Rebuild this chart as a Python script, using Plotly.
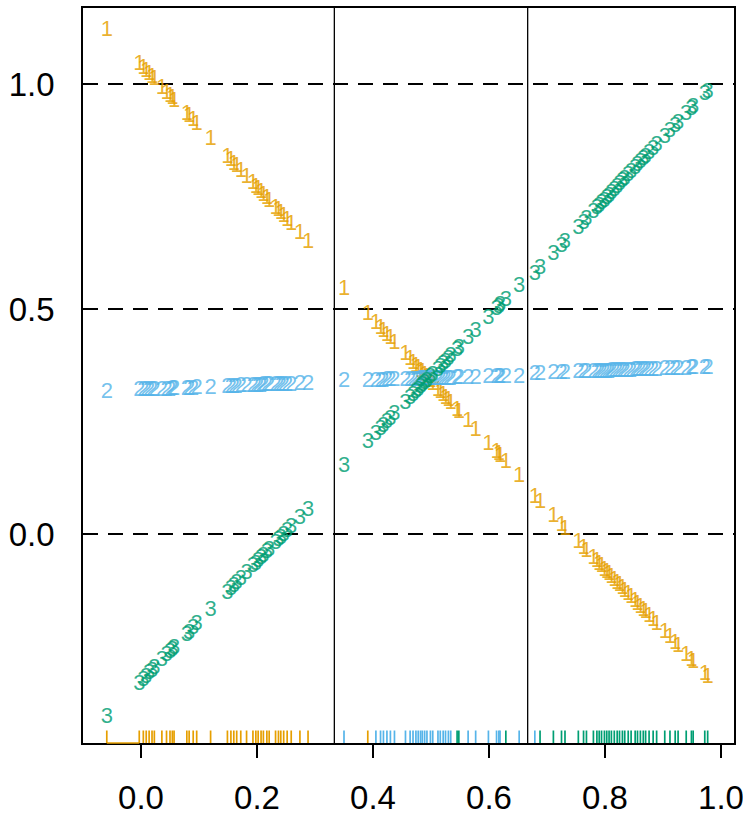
import plotly.graph_objects as go

# ---------------- data ----------------
# panel 1
x_p1 = [-0.059, -0.003, 0.004, 0.009, 0.014, 0.019, 0.023, 0.036, 0.044, 0.050, 0.054, 0.057,
        0.079, 0.083, 0.090, 0.096, 0.120, 0.149, 0.155, 0.160, 0.165, 0.172, 0.182, 0.193,
        0.198, 0.202, 0.207, 0.211, 0.217, 0.221, 0.232, 0.237, 0.241, 0.246, 0.252, 0.259,
        0.274, 0.288]
y1_p1 = [1.120, 1.044, 1.035, 1.028, 1.021, 1.014, 1.009, 0.991, 0.980, 0.972, 0.967, 0.962,
         0.933, 0.927, 0.918, 0.909, 0.877, 0.837, 0.829, 0.822, 0.816, 0.806, 0.792, 0.778,
         0.771, 0.765, 0.758, 0.753, 0.745, 0.739, 0.724, 0.718, 0.712, 0.705, 0.697, 0.688,
         0.667, 0.648]
y2_p1 = [0.315, 0.318, 0.318, 0.318, 0.319, 0.319, 0.319, 0.320, 0.320, 0.320, 0.321, 0.321,
         0.322, 0.322, 0.322, 0.323, 0.324, 0.325, 0.326, 0.326, 0.326, 0.327, 0.327, 0.328,
         0.328, 0.328, 0.328, 0.329, 0.329, 0.329, 0.330, 0.330, 0.330, 0.330, 0.331, 0.331,
         0.332, 0.332]
y3_p1 = [-0.408, -0.334, -0.325, -0.318, -0.311, -0.305, -0.299, -0.282, -0.271, -0.263, -0.258, -0.254,
         -0.225, -0.220, -0.210, -0.202, -0.170, -0.132, -0.124, -0.117, -0.111, -0.101, -0.088, -0.073,
         -0.067, -0.061, -0.055, -0.049, -0.041, -0.036, -0.021, -0.015, -0.009, -0.003, 0.005, 0.014,
         0.034, 0.053]
rug_col_p1 = ["1"] * 38

# panel 2
x_p2 = [0.350, 0.391, 0.405, 0.413, 0.418, 0.424, 0.430, 0.437, 0.456, 0.464, 0.469, 0.474,
        0.478, 0.482, 0.485, 0.489, 0.493, 0.499, 0.503, 0.512, 0.516, 0.521, 0.525, 0.530,
        0.534, 0.545, 0.548, 0.564, 0.577, 0.599, 0.613, 0.617, 0.619, 0.629, 0.652]
y1_p2 = [0.544, 0.487, 0.468, 0.457, 0.450, 0.442, 0.434, 0.424, 0.398, 0.387, 0.380, 0.373,
         0.367, 0.362, 0.358, 0.352, 0.347, 0.338, 0.333, 0.320, 0.315, 0.308, 0.302, 0.296,
         0.290, 0.275, 0.271, 0.249, 0.231, 0.200, 0.181, 0.176, 0.173, 0.159, 0.127]
y2_p2 = [0.338, 0.339, 0.340, 0.340, 0.340, 0.341, 0.341, 0.341, 0.342, 0.342, 0.342, 0.342,
         0.342, 0.343, 0.343, 0.343, 0.343, 0.343, 0.343, 0.344, 0.344, 0.344, 0.344, 0.344,
         0.344, 0.345, 0.345, 0.345, 0.346, 0.347, 0.347, 0.347, 0.347, 0.348, 0.348]
y3_p2 = [0.149, 0.204, 0.222, 0.233, 0.239, 0.247, 0.255, 0.265, 0.290, 0.301, 0.307, 0.314,
         0.319, 0.325, 0.329, 0.334, 0.339, 0.347, 0.352, 0.364, 0.370, 0.376, 0.382, 0.388,
         0.394, 0.408, 0.412, 0.434, 0.451, 0.480, 0.499, 0.504, 0.507, 0.520, 0.551]
rug_col_p2 = ["2", "1", "2", "2", "2", "2", "2", "2", "2", "2", "2", "2",
              "2", "2", "2", "2", "2", "2", "2", "2", "2", "2", "2", "2",
              "2", "3", "3", "2", "2", "2", "2", "2", "2", "3", "2"]

# panel 3
x_p3 = [0.679, 0.688, 0.711, 0.725, 0.731, 0.754, 0.763, 0.768, 0.780, 0.786, 0.790, 0.794,
        0.799, 0.803, 0.807, 0.811, 0.816, 0.821, 0.825, 0.830, 0.834, 0.840, 0.845, 0.852,
        0.856, 0.861, 0.866, 0.870, 0.876, 0.883, 0.889, 0.903, 0.912, 0.921, 0.926, 0.940,
        0.949, 0.952, 0.972, 0.977]
y1_p3 = [0.081, 0.069, 0.038, 0.019, 0.011, -0.019, -0.032, -0.038, -0.054, -0.062, -0.068, -0.073,
         -0.080, -0.085, -0.090, -0.096, -0.103, -0.109, -0.115, -0.121, -0.127, -0.135, -0.141, -0.151,
         -0.156, -0.163, -0.170, -0.175, -0.183, -0.192, -0.200, -0.219, -0.231, -0.243, -0.250, -0.269,
         -0.281, -0.285, -0.312, -0.318]
y2_p3 = [0.355, 0.355, 0.356, 0.357, 0.357, 0.358, 0.358, 0.359, 0.359, 0.359, 0.359, 0.360,
         0.360, 0.360, 0.360, 0.361, 0.361, 0.361, 0.361, 0.362, 0.362, 0.362, 0.362, 0.363,
         0.363, 0.363, 0.363, 0.364, 0.364, 0.364, 0.364, 0.365, 0.365, 0.366, 0.366, 0.366,
         0.367, 0.367, 0.367, 0.367]
y3_p3 = [0.577, 0.589, 0.621, 0.640, 0.648, 0.679, 0.691, 0.698, 0.715, 0.723, 0.728, 0.734,
         0.740, 0.746, 0.751, 0.757, 0.764, 0.770, 0.776, 0.783, 0.788, 0.796, 0.803, 0.812,
         0.818, 0.825, 0.832, 0.837, 0.845, 0.855, 0.863, 0.882, 0.894, 0.906, 0.913, 0.932,
         0.944, 0.948, 0.976, 0.982]
rug_col_p3 = ["2"] + ["3"] * 39

panel_breaks = [1 / 3, 2 / 3]
hlines = [0.0, 0.5, 1.0]
x_ticks = [0.0, 0.2, 0.4, 0.6, 0.8, 1.0]
y_ticks = [0.0, 0.5, 1.0]
series_labels = ["1", "2", "3"]

# ---------------- styling ----------------
COL = {"1": (230, 159, 0), "2": (86, 180, 233), "3": (0, 158, 115)}
FONT = "Liberation Sans, Arial, sans-serif"


def rgba(c, a):
    return f"rgba({c[0]},{c[1]},{c[2]},{a})"


xs = x_p1 + x_p2 + x_p3
ys = {
    "1": y1_p1 + y1_p2 + y1_p3,
    "2": y2_p1 + y2_p2 + y2_p3,
    "3": y3_p1 + y3_p2 + y3_p3,
}
rug_cols = rug_col_p1 + rug_col_p2 + rug_col_p3

fig = go.Figure()

for lab in series_labels:
    fig.add_trace(go.Scatter(
        x=xs, y=ys[lab], mode="text", text=[lab] * len(xs),
        textposition="middle center",
        textfont=dict(family=FONT, size=22, color=rgba(COL[lab], 0.82)),
        showlegend=False, hoverinfo="skip",
    ))

shapes = []
for h in hlines:
    shapes.append(dict(type="line", xref="paper", yref="y", x0=0, x1=1, y0=h, y1=h,
                       line=dict(color="black", width=2, dash="15px,10px"), layer="below"))
for b in panel_breaks:
    shapes.append(dict(type="line", xref="x", yref="paper", x0=b, x1=b, y0=0, y1=1,
                       line=dict(color="black", width=1.3)))
for xv, c in zip(xs, rug_cols):
    shapes.append(dict(type="line", xref="x", yref="paper", x0=xv, x1=xv, y0=0, y1=0.017,
                       line=dict(color=rgba(COL[c], 1), width=1.7)))
shapes.append(dict(type="line", xref="x", yref="paper", x0=x_p1[0], x1=x_p1[1], y0=0, y1=0,
                   line=dict(color=rgba(COL["1"], 1), width=1.5)))

fig.update_layout(
    width=743, height=816,
    margin=dict(l=83, r=9, t=8, b=73, autoexpand=False),
    paper_bgcolor="white", plot_bgcolor="white",
    shapes=shapes,
    showlegend=False,
    font=dict(family=FONT, color="black"),
)
fig.update_xaxes(
    range=[-0.1, 1.0224], showgrid=False, zeroline=False, automargin=False,
    showline=True, linecolor="black", linewidth=1.5, mirror=True,
    ticks="outside", ticklen=13, tickwidth=1.5, tickcolor="black",
    tickvals=x_ticks, tickformat=".1f",
    tickfont=dict(family=FONT, size=33, color="black"),
    ticklabelstandoff=12, ticklabeloverflow="allow",
)
fig.update_yaxes(
    range=[-0.4644, 1.1689], showgrid=False, zeroline=False, automargin=False,
    showline=True, linecolor="black", linewidth=1.5, mirror=True,
    ticks="", tickvals=y_ticks, tickformat=".1f",
    tickfont=dict(family=FONT, size=33, color="black"),
    ticklabelstandoff=20,
)

fig.write_html("out.html")
